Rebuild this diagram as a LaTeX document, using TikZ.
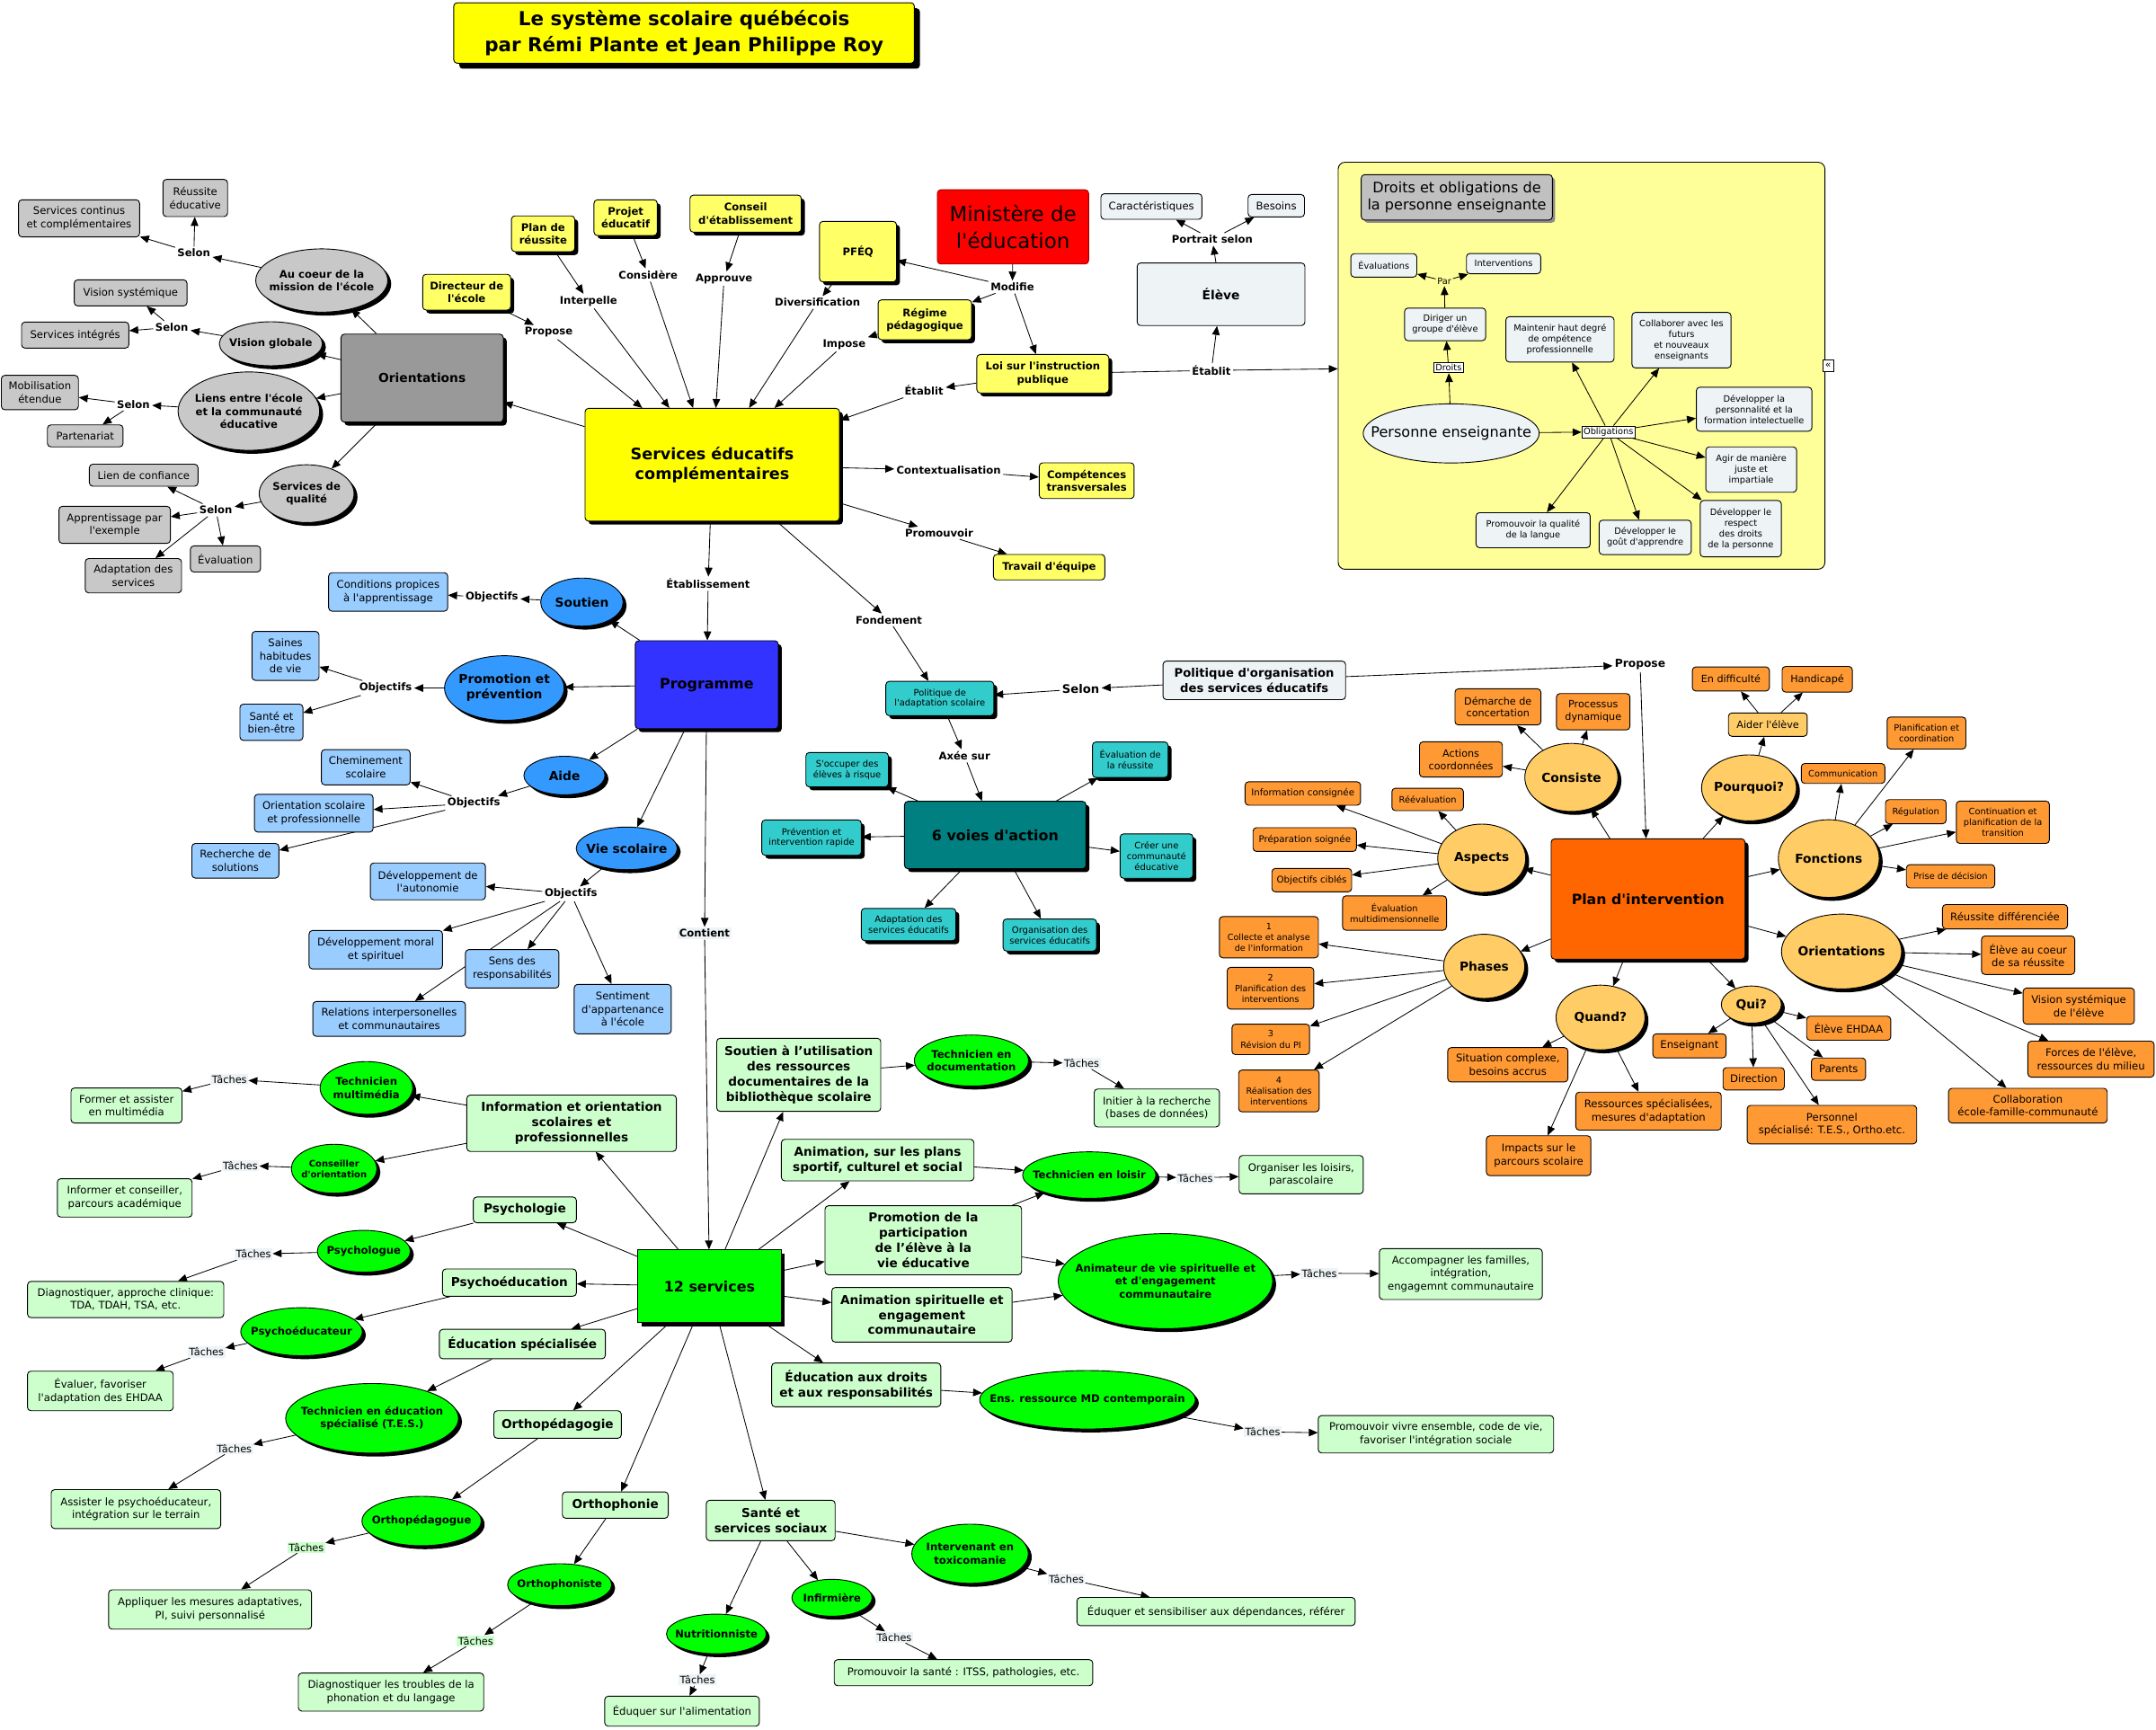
\documentclass[tikz,border=0pt]{standalone}
\usepackage{fontspec}
\setmainfont{DejaVu Sans}[Ligatures=TeXOff]
\usetikzlibrary{shapes.geometric,arrows.meta,shadows}
\newcommand\fz[2]{\fontsize{#1}{#2}\selectfont}
\definecolor{cy}{HTML}{FFFF00}
\definecolor{cyl}{HTML}{FFFF66}
\definecolor{cpanel}{HTML}{FFFF99}
\definecolor{cred}{HTML}{FF0000}
\definecolor{cpale}{HTML}{EEF3F6}
\definecolor{cgd}{HTML}{999999}
\definecolor{cgm}{HTML}{C8C8C8}
\definecolor{cgt}{HTML}{C0C0C0}
\definecolor{cb}{HTML}{3333FF}
\definecolor{cbm}{HTML}{3399FF}
\definecolor{cbl}{HTML}{99CCFF}
\definecolor{ctl}{HTML}{33CCCC}
\definecolor{ctd}{HTML}{008080}
\definecolor{co}{HTML}{FF6600}
\definecolor{col}{HTML}{FFCC66}
\definecolor{com}{HTML}{FF9933}
\definecolor{cg}{HTML}{00FF00}
\definecolor{cgl}{HTML}{CCFFCC}
\pgfdeclarelayer{back}
\pgfdeclarelayer{edges}
\pgfsetlayers{back,edges,main}
\begin{document}
\begin{tikzpicture}[x=1pt,y=-1pt,
 every node/.style={align=center, inner sep=1pt, font=\fz{7.6}{9.4}},
 wh/.style 2 args={minimum width=#1pt, minimum height=#2pt},
 bx/.style={draw, rounded corners=2.5pt, line width=0.6pt},
 el/.style={draw, ellipse, line width=0.6pt, inner xsep=-20pt, inner ysep=-6pt},
 sh/.style={drop shadow={shadow xshift=2.5pt,shadow yshift=-2.5pt,fill=black,opacity=1}},
 shg/.style={drop shadow={shadow xshift=2pt,shadow yshift=-2pt,fill=black!45,opacity=1}},
 lk/.style={font=\bfseries\fz{7.6}{9.4}, inner sep=1.5pt},
 tk/.style={fill=cpale, inner sep=1pt, font=\fz{7.4}{9}},
 arr/.style={-{Triangle[length=6.5pt,width=5.5pt]}, line width=0.55pt},
 ln/.style={line width=0.55pt},
 gbx/.style={bx, fill=cgm},
 gel/.style={el, sh, fill=cgm, font=\bfseries\fz{7.6}{9.4}},
 ysm/.style={bx, sh, fill=cyl, font=\bfseries\fz{7.6}{9.5}},
 dbx/.style={bx, fill=cpale, font=\fz{6.4}{7.8}},
 bel/.style={el, sh, fill=cbm, font=\bfseries\fz{9}{11}},
 lbx/.style={bx, fill=cbl, font=\fz{7.6}{9.5}},
 tbx/.style={bx, sh, fill=ctl, font=\fz{6.5}{7.8}},
 oel/.style={el, sh, fill=col, font=\bfseries\fz{9}{11}},
 obx/.style={bx, fill=com},
 osA/.style={font=\fz{6.4}{7.9}},
 osB/.style={font=\fz{7.3}{9}},
 osC/.style={font=\fz{7.6}{9.4}},
 gcat/.style={bx, fill=cgl, font=\bfseries\fz{8.9}{11}},
 gel2/.style={el, sh, fill=cg, font=\bfseries\fz{7.6}{9.4}},
 task/.style={bx, fill=cgl, font=\fz{7.6}{9.4}},
]
\useasboundingbox (0,0) rectangle (1568,1258);
\begin{pgfonlayer}{back}
\fill[white] (0,0) rectangle (1568,1258);
\node[bx, fill=cpanel, wh={354}{296}, rounded corners=5pt] (panel) at (1150.2,266) {};
\end{pgfonlayer}

% ---------- title
\node[bx, fill=cy, wh={335}{44}, font=\bfseries\fz{14}{19},
  drop shadow={shadow xshift=4pt,shadow yshift=-4pt,fill=black,opacity=1}] (title) at (497.5,24)
  {Le système scolaire québécois\\par Rémi Plante et Jean Philippe Roy};

% ---------- gray group
\node[bx, sh, fill=cgd, wh={118}{64}, font=\bfseries\fz{9}{11}] (orient) at (307,275) {Orientations};
\node[gel, wh={96}{46}] (aucoeur) at (234,204) {Au coeur de la\\mission de l'école};
\node[gel, wh={75}{32}] (visglob) at (197,250) {Vision globale};
\node[gel, wh={103}{57}] (liens) at (181,299) {Liens entre l'école\\et la communauté\\éducative};
\node[gel, wh={69}{42}] (servqual) at (223,359) {Services de\\qualité};
\node[lk] (selA) at (141,184) {Selon};
\node[lk] (selB) at (125,238) {Selon};
\node[lk] (selC) at (97,294) {Selon};
\node[lk] (selD) at (157,371) {Selon};
\node[gbx, wh={47}{27}] (reuss) at (142,144) {Réussite\\éducative};
\node[gbx, wh={88}{27}] (servcont) at (57.5,158.8) {Services continus\\et complémentaires};
\node[gbx, wh={82}{19}] (vissys) at (95,213) {Vision systémique};
\node[gbx, wh={78}{19}] (servint) at (54.7,243.7) {Services intégrés};
\node[gbx, wh={56}{25}] (mobil) at (29,285.5) {Mobilisation\\étendue};
\node[gbx, wh={55}{16}] (parten) at (62,317) {Partenariat};
\node[gbx, wh={79}{16}] (liencon) at (104.5,345.6) {Lien de confiance};
\node[gbx, wh={81}{27}] (apprent) at (83.4,381.7) {Apprentissage par\\l'exemple};
\node[gbx, wh={70}{25}] (adaptsv) at (97,418.7) {Adaptation des\\services};
\node[gbx, wh={51}{19}] (evalg) at (164,406.5) {Évaluation};

% ---------- yellow group
\node[bx, sh, fill=cy, wh={185}{82}, font=\bfseries\fz{11.5}{14}] (sec) at (518,338) {Services éducatifs\\complémentaires};
\node[ysm, wh={64}{26}] (direc) at (339.4,212.5) {Directeur de\\l'école};
\node[ysm, wh={46}{26}] (planr) at (395,170) {Plan de\\réussite};
\node[ysm, wh={46}{26}] (projet) at (455,158.3) {Projet\\éducatif};
\node[ysm, wh={81}{27}] (conseil) at (542.3,155.4) {Conseil\\d'établissement};
\node[ysm, wh={56}{44}] (pfeq) at (624,183) {PFÉQ};
\node[bx, fill=cred, draw=red!60!black, wh={110}{54}, font=\fz{15}{19}] (minist) at (736.7,165) {Ministère de\\l'éducation};
\node[ysm, wh={68}{29}] (regime) at (672.6,232.6) {Régime\\pédagogique};
\node[ysm, wh={96}{28}] (loi) at (758.4,271.8) {Loi sur l'instruction\\publique};
\node[bx, fill=cyl, wh={69}{26}, font=\bfseries\fz{7.6}{9.5}] (compet) at (790.3,349.6) {Compétences\\transversales};
\node[bx, fill=cyl, wh={81}{18.5}, font=\bfseries\fz{7.6}{9.5}] (travail) at (763,412.5) {Travail d'équipe};
\node[lk] (lPropose) at (399,241.6) {Propose};
\node[lk] (lInterp) at (428,219) {Interpelle};
\node[lk] (lConsid) at (471.4,200) {Considère};
\node[lk] (lApprouve) at (526.6,202.6) {Approuve};
\node[lk] (lDivers) at (594.5,220) {Diversification};
\node[lk] (lModifie) at (736.3,208.7) {Modifie};
\node[lk] (lImpose) at (614,250.5) {Impose};
\node[lk] (lEtabA) at (672,284) {Établit};
\node[lk] (lEtabB) at (881,269.4) {Établit};
\node[lk] (lContext) at (690,342) {Contextualisation};
\node[lk] (lPromou) at (683,387.6) {Promouvoir};
\node[lk] (lEtabliss) at (515,424.6) {Établissement};
\node[lk] (lFond) at (646.5,450.8) {Fondement};

% ---------- eleve
\node[bx, fill=cpale, wh={122}{45.5}, font=\bfseries\fz{9}{11}] (eleve) at (888,214) {Élève};
\node[bx, fill=cpale, wh={73.5}{18.6}] (caract) at (837.4,150.2) {Caractéristiques};
\node[bx, fill=cpale, wh={41}{16.3}] (besoins) at (928.2,149.6) {Besoins};
\node[lk] (lPortrait) at (881.6,174) {Portrait selon};

% ---------- droits panel
\node[bx, shg, fill=cgt, wh={139}{33}, font=\fz{10.5}{12.1}] (dtitle) at (1059.5,143.5) {Droits et obligations de\\la personne enseignante};
\node[el, fill=cpale, wh={128}{43}, font=\fz{10.5}{12}, inner xsep=-40pt] (personne) at (1055.4,315.2) {Personne enseignante};
\node[draw, fill=white, line width=0.6pt, inner sep=1.2pt, font=\fz{6.4}{7.8}] (ldroits) at (1053.5,267.4) {Droits};
\node[dbx, wh={59}{23.7}] (diriger) at (1051,235.9) {Diriger un\\groupe d'élève};
\node[font=\fz{6.4}{7.8}] (lpar) at (1050.4,204.5) {Par};
\node[dbx, wh={48}{17}] (evals) at (1006.4,193) {Évaluations};
\node[dbx, wh={54}{14.7}] (interv) at (1093.5,191.7) {Interventions};
\node[draw, fill=white, line width=0.6pt, inner sep=1.2pt, font=\fz{6.4}{7.8}] (loblig) at (1169.8,314.1) {Obligations};
\node[dbx, wh={78.7}{33}] (maintenir) at (1134.5,246.8) {Maintenir haut degré\\de ompétence\\professionnelle};
\node[dbx, wh={72}{40.4}] (collab) at (1222.9,247.4) {Collaborer avec les\\futurs\\et nouveaux\\enseignants};
\node[dbx, wh={84}{32}] (devperso) at (1275.7,297.6) {Développer la\\personnalité et la\\formation intelectuelle};
\node[dbx, wh={66}{33}] (agir) at (1273.6,341.5) {Agir de manière\\juste et\\impartiale};
\node[dbx, wh={59}{41}] (respect) at (1266,384.5) {Développer le\\respect\\des droits\\de la personne};
\node[dbx, wh={67}{25}] (gout) at (1196.5,390.8) {Développer le\\goût d'apprendre};
\node[dbx, wh={83}{25.5}] (langue) at (1115,385.6) {Promouvoir la qualité\\de la langue};
\node[draw, fill=white, line width=0.5pt, wh={8}{9}, inner sep=0pt, font=\fz{7}{8}] (chev) at (1329.5,266) {«};

% ---------- blue group
\node[bx, sh, fill=cb, wh={104}{64}, font=\bfseries\fz{10.4}{12.5}] (prog) at (514,498) {Programme};
\node[bel, wh={60}{35}] (soutien) at (423.2,437.9) {Soutien};
\node[bel, wh={87}{47}] (promo) at (366.8,500.4) {Promotion et\\prévention};
\node[bel, wh={59}{28}] (aide) at (410.5,564) {Aide};
\node[bel, wh={73.5}{31}] (viesc) at (455.8,617) {Vie scolaire};
\node[lk] (objA) at (357.7,434.5) {Objectifs};
\node[lk] (objB) at (280.4,500.4) {Objectifs};
\node[lk] (objC) at (344.6,584.2) {Objectifs};
\node[lk] (objD) at (415.2,650.1) {Objectifs};
\node[lbx, wh={86.6}{28}] (condit) at (282.3,430.5) {Conditions propices\\à l'apprentissage};
\node[lbx, wh={48.8}{35.6}] (saines) at (207.6,477) {Saines\\habitudes\\de vie};
\node[lbx, wh={45.8}{26.4}] (santebe) at (197.4,525.3) {Santé et\\bien-être};
\node[lbx, wh={64.5}{25.7}] (chemin) at (266,558) {Cheminement\\scolaire};
\node[lbx, wh={86.3}{27.5}] (orsco) at (228.2,591.4) {Orientation scolaire\\et professionnelle};
\node[lbx, wh={63.3}{25.2}] (recher) at (171.2,626) {Recherche de\\solutions};
\node[lbx, wh={83.7}{26.8}] (autono) at (311.2,641) {Développement de\\l'autonomie};
\node[lbx, wh={97}{28}] (moral) at (273.3,690.7) {Développement moral\\et spirituel};
\node[lbx, wh={68}{28}] (sens) at (372.5,704.6) {Sens des\\responsabilités};
\node[lbx, wh={111}{25.3}] (relat) at (283,741) {Relations interpersonelles\\et communautaires};
\node[lbx, wh={70.6}{36}] (sentim) at (452.9,733.9) {Sentiment\\d'appartenance\\à l'école};
\node[lk, fill=cpale] (lContient) at (512.4,678.7) {Contient};

% ---------- teal group
\node[tbx, wh={78.5}{25}] (poladapt) at (683.5,508) {Politique de\\l'adaptation scolaire};
\node[bx, sh, fill=ctd, wh={132}{49}, font=\bfseries\fz{10.4}{12.5}] (sixv) at (723.8,607.3) {6 voies d'action};
\node[tbx, wh={60}{25}] (socc) at (616.1,559.8) {S'occuper des\\élèves à risque};
\node[tbx, wh={72.4}{25.7}] (prevint) at (590.2,609.2) {Prévention et\\intervention rapide};
\node[tbx, wh={55}{25.8}] (evalreu) at (822,552.5) {Évaluation de\\la réussite};
\node[tbx, wh={53}{32.3}] (creer) at (841.1,622.6) {Créer une\\communauté\\éducative};
\node[tbx, wh={68.8}{23.5}] (adaptse) at (660.8,672.4) {Adaptation des\\services éducatifs};
\node[tbx, wh={68}{23.3}] (orgse) at (763.5,680) {Organisation des\\services éducatifs};
\node[lk, font=\bfseries\fz{8.6}{10}] (lSelonE) at (786,501.1) {Selon};
\node[lk] (lAxee) at (701.4,549.7) {Axée sur};
\node[bx, fill=cpale, wh={132.8}{28}, font=\bfseries\fz{8.6}{10.9}] (polorg) at (912.2,494.8) {Politique d'organisation\\des services éducatifs};
\node[lk, font=\bfseries\fz{8}{9.6}] (lPropose2) at (1192.8,483.4) {Propose};

% ---------- orange group
\node[bx, sh, fill=co, wh={141}{87.5}, font=\bfseries\fz{10.3}{12.4}] (plan) at (1198.6,653.8) {Plan d'intervention};
\node[oel, wh={67.7}{49.5}] (consiste) at (1142.8,565.4) {Consiste};
\node[oel, wh={69}{48}] (pourquoi) at (1272,573) {Pourquoi?};
\node[oel, wh={64}{49.7}] (aspects) at (1077.6,624.2) {Aspects};
\node[oel, wh={73.4}{56.5}] (fonctions) at (1330,624.4) {Fonctions};
\node[oel, wh={59}{46.7}] (phases) at (1079.4,702.8) {Phases};
\node[oel, wh={87.4}{54.4}] (orient2) at (1339.3,692) {Orientations};
\node[oel, wh={64.7}{47.1}] (quand) at (1164,740) {Quand?};
\node[oel, wh={43.7}{27}] (qui) at (1273.7,730.6) {Qui?};
\node[obx, osB, wh={56}{17.5}] (endiff) at (1258.8,493.8) {En difficulté};
\node[obx, osB, wh={51}{18.7}] (handic) at (1321.6,494) {Handicapé};
\node[bx, fill=col, osB, wh={57.3}{17}] (aider) at (1285.7,527) {Aider l'élève};
\node[obx, osB, wh={62.5}{26.3}] (demarche) at (1089.4,514.1) {Démarche de\\concertation};
\node[obx, osB, wh={53.4}{26.4}] (processus) at (1158.7,517.6) {Processus\\dynamique};
\node[obx, osB, wh={60.3}{25.6}] (actions) at (1062.5,552.3) {Actions\\coordonnées};
\node[obx, font=\fz{6.7}{8.2}, wh={84}{17}] (infocons) at (947.5,577.1) {Information consignée};
\node[obx, osA, wh={52}{16.3}] (reeval) at (1038.3,581.4) {Réévaluation};
\node[obx, font=\fz{6.7}{8.2}, wh={75.2}{17.3}] (prepsoi) at (948.9,610.6) {Préparation soignée};
\node[obx, font=\fz{6.7}{8.2}, wh={58}{17}] (objcib) at (954,640.1) {Objectifs ciblés};
\node[obx, osA, wh={75.6}{25}] (evalmul) at (1014.2,664) {Évaluation\\multidimensionnelle};
\node[obx, font=\fz{6.3}{7.9}, wh={72}{30}] (ph1) at (922.8,681.6) {1\\Collecte et analyse\\de l'information};
\node[obx, font=\fz{6.3}{7.9}, wh={63}{30.4}] (ph2) at (924,718.7) {2\\Planification des\\interventions};
\node[obx, font=\fz{6.3}{7.9}, wh={56.4}{22.2}] (ph3) at (924.2,755.9) {3\\Révision du PI};
\node[obx, font=\fz{6.3}{7.9}, wh={58.6}{30.4}] (ph4) at (930.1,793.4) {4\\Réalisation des\\interventions};
\node[obx, osC, wh={87.4}{25}] (situation) at (1096.6,774.4) {Situation complexe,\\besoins accrus};
\node[obx, osC, wh={105.8}{27.6}] (ressources) at (1198.9,808.1) {Ressources spécialisées,\\mesures d'adaptation};
\node[obx, osC, wh={76}{29}] (impacts) at (1119,840.5) {Impacts sur le\\parcours scolaire};
\node[obx, osC, wh={53.3}{17.5}] (enseig) at (1228.7,760.6) {Enseignant};
\node[obx, osC, wh={44.6}{16.3}] (direction) at (1275.4,784.6) {Direction};
\node[obx, osC, wh={39.4}{16.3}] (parents) at (1337.1,777.6) {Parents};
\node[obx, osC, wh={61.2}{17.5}] (ehdaa) at (1344.5,747.8) {Élève EHDAA};
\node[obx, osC, wh={123.3}{28}] (personnel) at (1332.3,817.9) {Personnel\\spécialisé: T.E.S., Ortho.etc.};
\node[obx, osA, wh={60.8}{14.5}] (commun) at (1340.4,562.5) {Communication};
\node[obx, osA, wh={57.3}{23.3}] (planco) at (1401.1,533.1) {Planification et\\coordination};
\node[obx, osA, wh={44.1}{17.5}] (regul) at (1393.3,590.3) {Régulation};
\node[obx, osA, wh={67.7}{30.8}] (contin) at (1456.6,598) {Continuation et\\planification de la\\transition};
\node[obx, osA, wh={64.3}{16.9}] (prisedec) at (1418.6,637.3) {Prise de décision};
\node[obx, osC, wh={91}{17.7}] (reudiff) at (1458.2,666.7) {Réussite différenciée};
\node[obx, osC, wh={67.8}{28}] (elcoeur) at (1475,694.7) {Élève au coeur\\de sa réussite};
\node[obx, osC, wh={80.9}{26.3}] (vissys2) at (1511.8,731.7) {Vision systémique\\de l'élève};
\node[obx, osC, wh={91.8}{26.2}] (forces) at (1520.7,770.3) {Forces de l'élève,\\ressources du milieu};
\node[obx, osC, wh={115.4}{25.2}] (collabefc) at (1474.8,804.1) {Collaboration\\école-famille-communauté};

% ---------- green group
\node[draw, line width=0.6pt, sh, fill=cg, wh={104}{53}, font=\bfseries\fz{10.4}{12.5}] (twelve) at (516,935.5) {12 services};
\node[gcat, wh={152.4}{41}] (info) at (415.7,816.9) {Information et orientation\\scolaires et\\professionnelles};
\node[gcat, wh={119.3}{53.2}] (soutut) at (580.9,781.7) {Soutien à l’utilisation\\des ressources\\documentaires de la\\bibliothèque scolaire};
\node[gcat, wh={140.1}{30.2}] (animpl) at (638.3,843.7) {Animation, sur les plans\\sportif, culturel et social};
\node[gcat, wh={143}{50.2}] (promop) at (671.5,902) {Promotion de la\\participation\\de l’élève à la\\vie éducative};
\node[gcat, wh={131.1}{39.7}] (animsp) at (670.5,956.2) {Animation spirituelle et\\engagement\\communautaire};
\node[gcat, wh={75}{18.7}] (psycho) at (381.7,879.9) {Psychologie};
\node[gcat, wh={97.4}{19.8}] (psyed) at (370.5,932.8) {Psychoéducation};
\node[gcat, wh={120.7}{21.4}] (edspec) at (379.9,977.5) {Éducation spécialisée};
\node[gcat, wh={92.7}{20}] (orthoped) at (405.5,1036) {Orthopédagogie};
\node[gcat, wh={77}{19.2}] (orthoph) at (447.5,1094.6) {Orthophonie};
\node[gcat, wh={93.7}{29.4}] (santess) at (560.5,1105.8) {Santé et\\services sociaux};
\node[gcat, wh={123}{31.8}] (eddroits) at (622.7,1007.2) {Éducation aux droits\\et aux responsabilités};

\node[gel2, wh={67.4}{38.3}] (techmm) at (266.5,791.2) {Technicien\\multimédia};
\node[gel2, wh={62.3}{35.6}, font=\bfseries\fz{6.5}{8}] (consor) at (243,850) {Conseiller\\d'orientation};
\node[gel2, wh={67.7}{30.4}] (psylog) at (264.6,910) {Psychologue};
\node[gel2, wh={88.4}{34.9}] (psyedr) at (219.3,968.5) {Psychoéducateur};
\node[gel2, wh={125.7}{50.6}] (tes) at (270.6,1031.5) {Technicien en éducation\\spécialisé (T.E.S.)};
\node[gel2, wh={86.7}{35.9}] (orthopedg) at (306.6,1106.2) {Orthopédagogue};
\node[gel2, wh={75.7}{30.5}] (orthophn) at (407,1152.5) {Orthophoniste};
\node[gel2, wh={72.6}{28.8}] (nutri) at (521,1188.3) {Nutritionniste};
\node[gel2, wh={58.4}{26.8}] (infirm) at (605.1,1162) {Infirmière};
\node[gel2, wh={84.7}{43}] (toxico) at (705.5,1130) {Intervenant en\\toxicomanie};
\node[gel2, wh={83}{37.1}] (techdoc) at (706.5,771.3) {Technicien en\\documentation};
\node[gel2, wh={96.9}{33.8}] (techloi) at (792.2,854.6) {Technicien en loisir};
\node[gel2, wh={156}{69.1}] (animat) at (847.6,931.7) {Animateur de vie spirituelle et\\et d'engagement\\communautaire};
\node[gel2, wh={156.9}{42.5}] (ensres) at (790.9,1018) {Ens. ressource MD contemporain};

\node[tk] (t1) at (166.8,784.9) {Tâches};
\node[tk] (t2) at (174.8,847.5) {Tâches};
\node[tk] (t3) at (184.4,912.1) {Tâches};
\node[tk] (t4) at (150.1,983.3) {Tâches};
\node[tk] (t5) at (170.4,1053.5) {Tâches};
\node[tk] (t6) at (786.7,773.4) {Tâches};
\node[tk] (t7) at (869.3,856.7) {Tâches};
\node[tk] (t8) at (959.5,926) {Tâches};
\node[tk] (t9) at (918.3,1041.4) {Tâches};
\node[tk, fill=cgl] (t10) at (222.8,1125.3) {Tâches};
\node[tk, fill=cgl] (t11) at (346,1193.3) {Tâches};
\node[tk] (t12) at (507.2,1221.8) {Tâches};
\node[tk] (t13) at (650.3,1190.7) {Tâches};
\node[tk] (t14) at (775.5,1148.2) {Tâches};

\node[task, wh={80.7}{25.5}] (former) at (92,804) {Former et assister\\en multimédia};
\node[task, wh={98}{27.9}] (informer) at (90.7,871.2) {Informer et conseiller,\\parcours académique};
\node[task, wh={142.7}{26.4}] (diagn) at (91.4,945.1) {Diagnostiquer, approche clinique:\\TDA, TDAH, TSA, etc.};
\node[task, wh={106}{28.8}] (evaluer) at (73,1011.6) {Évaluer, favoriser\\l'adaptation des EHDAA};
\node[task, wh={123.3}{28.3}] (assister) at (98.9,1097.5) {Assister le psychoéducateur,\\intégration sur le terrain};
\node[task, wh={147.6}{28.6}] (appliquer) at (152.8,1170.5) {Appliquer les mesures adaptatives,\\PI, suivi personnalisé};
\node[task, wh={134.8}{27.7}] (diagtr) at (284.4,1230.6) {Diagnostiquer les troubles de la\\phonation et du langage};
\node[task, wh={112.4}{21.8}] (alim) at (496,1244.5) {Éduquer sur l'alimentation};
\node[task, wh={188}{19}] (promsan) at (700.7,1216.5) {Promouvoir la santé : ITSS, pathologies, etc.};
\node[task, wh={202.3}{20.5}] (eduqdep) at (884.4,1172) {Éduquer et sensibiliser aux dépendances, référer};
\node[task, wh={91.1}{27.6}] (initier) at (841.3,805.8) {Initier à la recherche\\(bases de données)};
\node[task, wh={90.3}{27.9}] (organiser) at (946.3,854.3) {Organiser les loisirs,\\parascolaire};
\node[task, wh={118.5}{37}] (accomp) at (1062.4,926.6) {Accompagner les familles,\\intégration,\\engagemnt communautaire};
\node[task, wh={171.2}{27.2}] (promviv) at (1044.3,1043.1) {Promouvoir vivre ensemble, code de vie,\\favoriser l'intégration sociale};

% ---------- connectors
\begin{pgfonlayer}{edges}
\foreach \a/\b in {sec/orient, orient/aucoeur, orient/visglob, orient/liens, orient/servqual,
  aucoeur/selA, selA/reuss, selA/servcont, visglob/selB, selB/vissys, selB/servint,
  liens/selC, selC/mobil, selC/parten, servqual/selD, selD/liencon, selD/apprent, selD/adaptsv, selD/evalg,
  direc/lPropose, lPropose/sec, planr/lInterp, lInterp/sec, projet/lConsid, lConsid/sec,
  conseil/lApprouve, lApprouve/sec, pfeq/lDivers, lDivers/sec, minist/lModifie,
  lModifie/pfeq, lModifie/regime, lModifie/loi, regime/lImpose, lImpose/sec, loi/lEtabA, lEtabA/sec,
  lEtabB/panel, lEtabB/eleve, eleve/lPortrait, lPortrait/caract, lPortrait/besoins,
  sec/lContext, lContext/compet, sec/lPromou, lPromou/travail, sec/lEtabliss, lEtabliss/prog,
  sec/lFond, lFond/poladapt,
  personne/ldroits, ldroits/diriger, diriger/lpar, lpar/evals, lpar/interv, personne/loblig,
  loblig/maintenir, loblig/collab, loblig/devperso, loblig/agir, loblig/respect, loblig/gout, loblig/langue,
  prog/soutien, prog/promo, prog/aide, prog/viesc, soutien/objA, objA/condit, promo/objB, objB/saines,
  objB/santebe, aide/objC, objC/chemin, objC/orsco, objC/recher, viesc/objD, objD/autono, objD/moral,
  objD/sens, objD/relat, objD/sentim, prog/lContient, lContient/twelve,
  polorg/lSelonE, lSelonE/poladapt, poladapt/lAxee, lAxee/sixv, sixv/socc, sixv/prevint, sixv/evalreu,
  sixv/creer, sixv/adaptse, sixv/orgse, polorg/lPropose2, lPropose2/plan,
  plan/consiste, plan/pourquoi, plan/aspects, plan/fonctions, plan/phases, plan/orient2, plan/quand, plan/qui,
  consiste/demarche, consiste/processus, consiste/actions, pourquoi/aider, aider/endiff, aider/handic,
  aspects/infocons, aspects/reeval, aspects/prepsoi, aspects/objcib, aspects/evalmul,
  phases/ph1, phases/ph2, phases/ph3, phases/ph4,
  fonctions/commun, fonctions/planco, fonctions/regul, fonctions/contin, fonctions/prisedec,
  orient2/reudiff, orient2/elcoeur, orient2/vissys2, orient2/forces, orient2/collabefc,
  quand/situation, quand/ressources, quand/impacts,
  qui/enseig, qui/direction, qui/parents, qui/ehdaa, qui/personnel,
  twelve/info, twelve/soutut, twelve/animpl, twelve/promop, twelve/animsp, twelve/psycho, twelve/psyed,
  twelve/edspec, twelve/orthoped, twelve/orthoph, twelve/santess, twelve/eddroits,
  info/techmm, info/consor, psycho/psylog, psyed/psyedr, edspec/tes, orthoped/orthopedg,
  orthoph/orthophn, santess/nutri, santess/infirm, santess/toxico, soutut/techdoc, animpl/techloi,
  promop/techloi, promop/animat, animsp/animat, eddroits/ensres,
  techmm/t1, t1/former, consor/t2, t2/informer, psylog/t3, t3/diagn, psyedr/t4, t4/evaluer,
  tes/t5, t5/assister, techdoc/t6, t6/initier, techloi/t7, t7/organiser, animat/t8, t8/accomp,
  ensres/t9, t9/promviv, orthopedg/t10, t10/appliquer, orthophn/t11, t11/diagtr,
  nutri/t12, t12/alim, infirm/t13, t13/promsan, toxico/t14, t14/eduqdep}
  \draw[arr] (\a) -- (\b);
\draw[ln] (loi) -- (lEtabB);
\end{pgfonlayer}
\end{tikzpicture}
\end{document}
